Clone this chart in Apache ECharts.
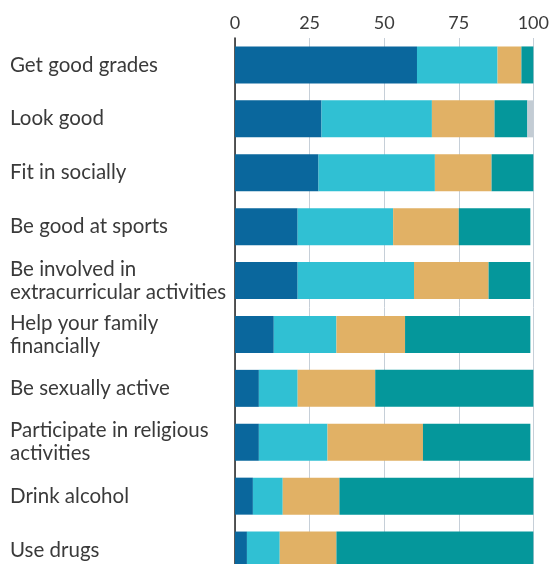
<!DOCTYPE html>
<html>
<head>
<meta charset="utf-8">
<script src="https://cdn.jsdelivr.net/npm/echarts@6/dist/echarts.min.js"></script>
<style>
html,body{margin:0;padding:0;background:#fff;overflow:hidden;}
#c{width:552px;height:578px;}
</style>
</head>
<body>
<div id="c"></div>
<script>
var categories = [
  "Get good grades",
  "Look good",
  "Fit in socially",
  "Be good at sports",
  "Be involved in\nextracurricular activities",
  "Help your family\nfinancially",
  "Be sexually active",
  "Participate in religious\nactivities",
  "Drink alcohol",
  "Use drugs"
];
var extremelyImportant = [61, 29, 28, 21, 21, 13, 8, 8, 6, 4];
var veryImportant      = [27, 37, 39, 32, 39, 21, 13, 23, 10, 11];
var somewhatImportant  = [8, 21, 19, 22, 25, 23, 26, 32, 19, 19];
var notImportant       = [4, 11, 14, 24, 14, 42, 53, 36, 65, 66];
var noAnswer           = [0, 2, 0, 0, 0, 0, 0, 0, 0, 0];
var xTicks = [0, 25, 50, 75, 100];

var colors = ["#0a679d", "#30c0d3", "#e1b165", "#05979b", "#c3ccd4"];
var names = ["Extremely important", "Very important", "Somewhat important", "Not important", "No answer"];
var values = [extremelyImportant, veryImportant, somewhatImportant, notImportant, noAnswer];

var chart = echarts.init(document.getElementById('c'), null, {renderer: 'canvas'});
var fontFam = 'Lato, "Open Sans", sans-serif';
chart.setOption({
  animation: false,
  backgroundColor: '#ffffff',
  grid: {left: 235, top: 38, width: 299.3, height: 539, containLabel: false},
  xAxis: {
    type: 'value', position: 'top', min: xTicks[0], max: xTicks[xTicks.length - 1], interval: 25,
    axisLine: {show: false}, axisTick: {show: false},
    axisLabel: {fontSize: 18, color: '#3b3b3b', fontFamily: fontFam, margin: 6,
      formatter: function (v) { return xTicks.indexOf(v) >= 0 ? String(v) : ''; }},
    splitLine: {show: true, lineStyle: {color: '#c6cfd8', width: 1}}
  },
  yAxis: {
    type: 'category', inverse: true, data: categories,
    axisLine: {show: true, lineStyle: {color: '#222', width: 1.5}},
    axisTick: {show: false},
    axisLabel: {align: 'left', margin: 225, fontSize: 20.5, color: '#3a3a3a', fontFamily: fontFam, lineHeight: 23}
  },
  series: values.map(function (arr, i) {
    return {
      name: names[i], type: 'bar', stack: 'total', data: arr, barWidth: 37,
      itemStyle: {color: colors[i]}, emphasis: {disabled: true}
    };
  })
});
</script>
</body>
</html>
